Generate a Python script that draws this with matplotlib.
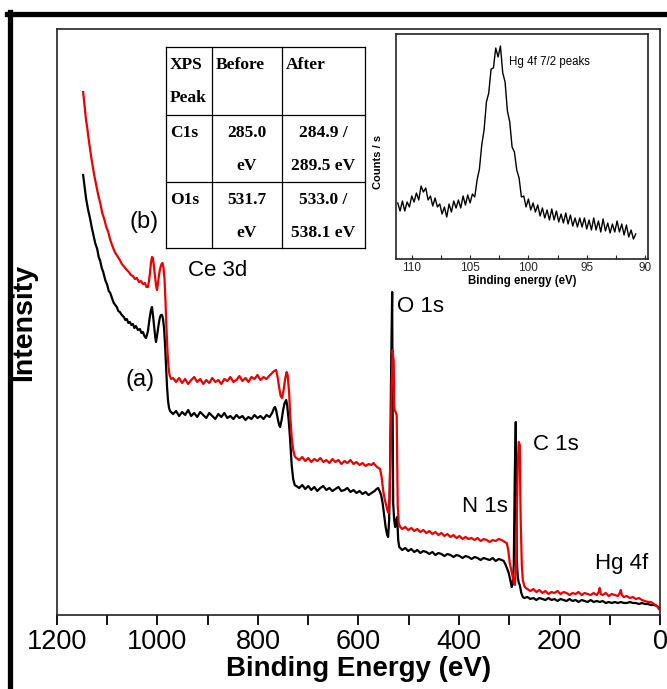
import numpy as np
import matplotlib.pyplot as plt
from matplotlib.lines import Line2D

plt.rcParams['font.family'] = ['Liberation Sans', 'DejaVu Sans']

# survey spectra, (binding energy eV, intensity a.u.)
# (a) before
curve_a = [
    (1148, 440), (1145, 428), (1142, 416), (1138, 405), (1134, 396), (1131, 388), (1128, 381),
    (1124, 372), (1120, 366), (1117, 358), (1114, 354), (1111, 347), (1108, 343), (1104, 335),
    (1100, 330), (1097, 324), (1094, 322), (1090, 316), (1087, 312), (1084, 310), (1081, 308),
    (1078, 304), (1075, 303), (1071, 300), (1067, 298), (1064, 295), (1061, 296), (1058, 292),
    (1055, 293), (1052, 290), (1049, 291), (1046, 287), (1043, 289), (1039, 285), (1035, 286),
    (1032, 282), (1029, 283), (1026, 279), (1023, 277), (1021, 280), (1019, 284), (1017, 292),
    (1015, 299), (1013, 305), (1011, 308), (1009, 300), (1007, 290), (1005, 280), (1003, 273),
    (1001, 279), (999, 286), (997, 293), (995, 298), (993, 300), (991, 300), (989, 296),
    (987, 287), (985, 270), (983, 248), (981, 228), (979, 214), (977, 207), (975, 204),
    (969, 201), (963, 204), (957, 199), (951, 203), (945, 200), (939, 205), (933, 199),
    (927, 202), (921, 198), (915, 203), (909, 200), (903, 197), (897, 202), (891, 199),
    (885, 196), (879, 201), (873, 198), (867, 202), (861, 197), (855, 199), (849, 196),
    (843, 200), (837, 197), (831, 199), (825, 195), (819, 198), (813, 196), (807, 200),
    (801, 197), (795, 199), (789, 196), (783, 200), (777, 198), (772, 202), (768, 207),
    (766, 208), (764, 205), (761, 197), (758, 190), (756, 188), (753, 195), (750, 205),
    (747, 212), (744, 215), (742, 210), (739, 195), (736, 175), (733, 150), (730, 136),
    (727, 130), (724, 129), (718, 127), (712, 130), (706, 126), (700, 129), (694, 125),
    (688, 128), (682, 124), (676, 127), (670, 129), (664, 125), (658, 127), (652, 124),
    (646, 126), (640, 128), (634, 124), (628, 125), (622, 127), (616, 123), (610, 125),
    (604, 122), (598, 124), (592, 121), (586, 123), (580, 120), (574, 122), (568, 124),
    (564, 126), (561, 127), (558, 124), (555, 120), (552, 112), (549, 100), (546, 88),
    (543, 80), (541, 78), (539, 95), (537, 150), (535, 250), (533, 323), (532, 200),
    (531, 112), (529, 95), (527, 88), (525, 95), (523, 98), (521, 75), (519, 68), (517, 67),
    (513, 65), (507, 67), (501, 64), (495, 66), (489, 63), (483, 65), (477, 62), (471, 64),
    (465, 63), (459, 61), (453, 63), (447, 60), (441, 62), (435, 61), (429, 59), (423, 61),
    (417, 60), (411, 58), (405, 60), (399, 59), (393, 57), (387, 59), (381, 58), (375, 56),
    (369, 58), (363, 57), (357, 55), (351, 57), (345, 56), (339, 55), (333, 57), (327, 54),
    (321, 56), (315, 55), (311, 54), (307, 50), (304, 46), (301, 42), (298, 35), (295, 28),
    (293, 32), (291, 50), (289, 140), (287, 193), (286, 120), (285, 55), (283, 38), (281, 32),
    (279, 30), (276, 22), (273, 18), (270, 17), (264, 18), (258, 16), (252, 17), (246, 15),
    (240, 17), (234, 16), (228, 15), (222, 17), (216, 15), (210, 16), (204, 14), (198, 16),
    (192, 15), (186, 14), (180, 16), (174, 14), (168, 15), (162, 13), (156, 15), (150, 14),
    (144, 13), (138, 15), (132, 13), (126, 14), (120, 13), (114, 14), (108, 12), (102, 13),
    (96, 12), (90, 13), (84, 12), (78, 13), (72, 12), (66, 12), (60, 13), (54, 12), (48, 12),
    (42, 11), (36, 12), (30, 11), (24, 11), (18, 10), (12, 10), (6, 9), (2, 7),
]

# (b) after
curve_b = [
    (1148, 523), (1145, 508), (1142, 494), (1140, 488), (1137, 476), (1134, 465), (1132, 458),
    (1130, 452), (1126, 440), (1122, 430), (1118, 420), (1114, 412), (1110, 402), (1106, 396),
    (1102, 388), (1098, 383), (1094, 375), (1089, 368), (1085, 363), (1080, 359), (1075, 355),
    (1071, 351), (1066, 348), (1061, 345), (1057, 343), (1053, 340), (1049, 339), (1045, 336),
    (1041, 337), (1037, 333), (1033, 334), (1029, 331), (1025, 332), (1022, 328), (1019, 328),
    (1017, 334), (1015, 342), (1013, 352), (1011, 358), (1009, 357), (1007, 348), (1005, 338),
    (1003, 330), (1001, 325), (999, 332), (997, 340), (995, 346), (992, 351), (990, 352),
    (988, 347), (986, 336), (984, 312), (982, 285), (980, 262), (978, 248), (976, 240),
    (973, 236), (969, 237), (963, 233), (957, 237), (951, 232), (945, 236), (939, 231),
    (933, 235), (927, 238), (921, 233), (915, 236), (909, 231), (903, 235), (897, 232),
    (891, 237), (885, 233), (879, 235), (873, 231), (867, 236), (861, 234), (855, 238),
    (849, 233), (843, 235), (837, 239), (831, 234), (825, 237), (819, 233), (813, 238),
    (807, 236), (801, 240), (795, 235), (789, 238), (783, 236), (778, 239), (772, 242),
    (768, 244), (764, 245), (761, 238), (758, 228), (755, 219), (752, 217), (749, 225),
    (746, 236), (743, 243), (741, 240), (738, 222), (736, 200), (733, 178), (730, 165),
    (727, 159), (724, 157), (718, 155), (712, 158), (706, 154), (700, 157), (694, 153),
    (688, 156), (682, 154), (676, 157), (670, 153), (664, 155), (658, 152), (652, 156),
    (646, 153), (640, 155), (634, 151), (628, 154), (622, 152), (616, 155), (610, 151),
    (604, 153), (598, 150), (592, 152), (586, 149), (580, 151), (574, 150), (570, 152),
    (567, 150), (563, 148), (560, 147), (557, 146), (554, 138), (551, 125), (548, 116),
    (545, 110), (542, 104), (540, 102), (538, 120), (536, 170), (534, 230), (532, 265),
    (531, 258), (530, 255), (529, 210), (528, 205), (526, 203), (524, 200), (522, 110),
    (520, 92), (517, 88), (513, 86), (507, 88), (501, 85), (495, 87), (489, 84), (483, 86),
    (477, 83), (471, 85), (465, 82), (459, 84), (453, 81), (447, 83), (441, 80), (435, 82),
    (429, 79), (423, 81), (417, 78), (411, 80), (405, 77), (399, 79), (393, 76), (387, 78),
    (381, 76), (375, 77), (369, 75), (363, 77), (357, 74), (351, 76), (345, 75), (339, 73),
    (333, 75), (327, 74), (321, 76), (315, 75), (309, 73), (305, 72), (302, 65), (299, 52),
    (296, 45), (293, 38), (291, 32), (289, 30), (287, 45), (285, 100), (283, 150), (281, 173),
    (279, 170), (278, 120), (277, 90), (275, 50), (273, 35), (270, 29), (267, 27), (264, 26),
    (258, 24), (252, 26), (246, 23), (240, 25), (234, 22), (228, 24), (222, 21), (216, 23),
    (210, 22), (204, 24), (198, 21), (192, 23), (186, 22), (180, 20), (174, 22), (168, 21),
    (162, 23), (156, 20), (150, 22), (144, 21), (138, 20), (132, 22), (126, 20), (122, 23),
    (120, 27), (118, 21), (114, 20), (108, 22), (102, 19), (96, 21), (90, 20), (84, 19),
    (80, 22), (78, 25), (76, 20), (72, 18), (66, 19), (60, 17), (54, 18), (48, 16), (42, 17),
    (36, 15), (30, 14), (24, 13), (18, 13), (12, 11), (6, 9), (2, 6),
]

# inset: Hg 4f 7/2 region
hg_energy = [
    111.2, 111.0, 110.8, 110.6, 110.4, 110.2, 110.0, 109.8, 109.6, 109.4, 109.2, 109.0,
    108.8, 108.6, 108.4, 108.2, 108.0, 107.8, 107.6, 107.4, 107.2, 107.0, 106.8, 106.6,
    106.4, 106.2, 106.0, 105.8, 105.6, 105.4, 105.2, 105.0, 104.8, 104.6, 104.4, 104.2,
    104.0, 103.8, 103.6, 103.4, 103.2, 103.0, 102.8, 102.6, 102.4, 102.2, 102.0, 101.8,
    101.6, 101.4, 101.2, 101.0, 100.8, 100.6, 100.4, 100.2, 100.0, 99.8, 99.6, 99.4,
    99.2, 99.0, 98.8, 98.6, 98.4, 98.2, 98.0, 97.8, 97.6, 97.4, 97.2, 97.0,
    96.8, 96.6, 96.4, 96.2, 96.0, 95.8, 95.6, 95.4, 95.2, 95.0, 94.8, 94.6,
    94.4, 94.2, 94.0, 93.8, 93.6, 93.4, 93.2, 93.0, 92.8, 92.6, 92.4, 92.2,
    92.0, 91.8, 91.6, 91.4, 91.2, 91.0, 90.8,
]
hg_counts = [
    56, 48, 58, 48, 57, 52, 63, 57, 66, 59, 73, 67,
    71, 59, 63, 53, 61, 52, 55, 45, 52, 42, 55, 47,
    58, 51, 59, 51, 63, 54, 64, 56, 65, 62, 79, 90,
    114, 129, 157, 166, 190, 191, 211, 202, 213, 186, 177, 148,
    137, 112, 107, 89, 81, 62, 63, 52, 60, 49, 56, 47,
    54, 43, 51, 41, 49, 39, 50, 39, 48, 37, 45, 36,
    46, 35, 44, 33, 41, 32, 41, 32, 41, 30, 39, 29,
    41, 29, 38, 27, 40, 28, 36, 26, 35, 27, 38, 27,
    35, 24, 34, 22, 29, 20, 25,
]

table_header = ['XPS\nPeak', 'Before', 'After']
table_rows = [
    ['C1s', '285.0\neV', '284.9 /\n289.5 eV'],
    ['O1s', '531.7\neV', '533.0 /\n538.1 eV'],
]

W, H = 667, 689
fig = plt.figure(figsize=(W / 100, H / 100), dpi=100)

# main survey axes
ax = fig.add_axes([57 / W, 1 - 615 / H, 603 / W, 586 / H])
ea, ia = np.array(curve_a).T
eb, ib = np.array(curve_b).T
ax.plot(ea, ia, color='black', lw=1.6)
ax.plot(eb, ib, color='#ee0000', lw=1.6)
ax.set_xlim(1200, 0)
ax.set_ylim(0, 586)
ax.set_xticks(range(0, 1201, 200))
ax.set_xticks(range(100, 1200, 200), minor=True)
ax.tick_params(axis='x', which='both', direction='out', length=7, width=1.3,
               labelsize=19.5, pad=3)
ax.set_yticks([])
for s in ax.spines.values():
    s.set_linewidth(1.2)
    s.set_color('#222222')
ax.set_xlabel('Binding Energy (eV)', fontsize=20, fontweight='bold', labelpad=1)
ax.set_ylabel('Intensity', fontsize=20.5, fontweight='bold')
ax.yaxis.set_label_coords(-0.033, 0.5)

ax.text(1027, 393, '(b)', fontsize=17, ha='center', va='center')
ax.text(1035, 235, '(a)', fontsize=17, ha='center', va='center')
ax.text(939, 345, 'Ce 3d', fontsize=16, ha='left', va='center')
ax.text(523, 308, 'O 1s', fontsize=16, ha='left', va='center')
ax.text(302, 108, 'N 1s', fontsize=16, ha='right', va='center')
ax.text(253, 170, 'C 1s', fontsize=16, ha='left', va='center')
ax.text(129, 52, 'Hg 4f', fontsize=16, ha='left', va='center')

# inset
ins = fig.add_axes([396 / W, 1 - 259 / H, 252 / W, 225 / H])
ins.plot(hg_energy, hg_counts, color='black', lw=1.0)
ins.set_xlim(111.35, 89.75)
ins.set_ylim(0, 225)
ins.set_xticks([110, 105, 100, 95, 90])
ins.set_xticks([107.5, 102.5, 97.5, 92.5], minor=True)
ins.tick_params(axis='x', which='both', direction='in', length=3, width=0.8,
                labelsize=8.5, pad=2, colors='#222222')
ins.set_yticks([])
for s in ins.spines.values():
    s.set_linewidth(1.2)
    s.set_color('#222222')
ins.set_xlabel('Binding energy (eV)', fontsize=8.3, fontweight='bold', labelpad=1)
ins.set_ylabel('Counts / s', fontsize=8, fontweight='bold')
ins.yaxis.set_label_coords(-0.05, 0.43)
ins.text(101.7, 197, 'Hg 4f 7/2 peaks', fontsize=8.3, va='center')

# table drawn as lines + text
tb = fig.add_axes([166 / W, 1 - 248 / H, 199 / W, 201 / H])
tb.set_xlim(0, 199)
tb.set_ylim(201, 0)
tb.axis('off')
col_edges = [0, 46, 116, 199]
row_edges = [0, 68, 135, 201]
for x in col_edges:
    tb.plot([x, x], [0, 201], color='black', lw=0.9, clip_on=False)
for y in row_edges:
    tb.plot([0, 199], [y, y], color='black', lw=0.9, clip_on=False)
tfont = dict(family=['Liberation Serif', 'DejaVu Serif'], fontweight='bold', fontsize=12.5)
cells = [table_header] + table_rows
for r, row in enumerate(cells):
    for c, txt in enumerate(row):
        for k, line in enumerate(txt.split('\n')):
            y = row_edges[r] + 18 + 33 * k
            if r == 0 or c == 0:
                tb.text(col_edges[c] + 4, y, line, ha='left', va='center', **tfont)
            else:
                tb.text((col_edges[c] + col_edges[c + 1]) / 2, y, line,
                        ha='center', va='center', **tfont)

# outer frame of the original figure
fig.add_artist(Line2D([9.5 / W, 9.5 / W], [0, 1 - 12 / H], transform=fig.transFigure,
                      color='black', lw=3.8))
fig.add_artist(Line2D([7 / W, 1], [1 - 13.5 / H, 1 - 13.5 / H], transform=fig.transFigure,
                      color='black', lw=3.8))

fig.savefig('out.png', dpi=100)
